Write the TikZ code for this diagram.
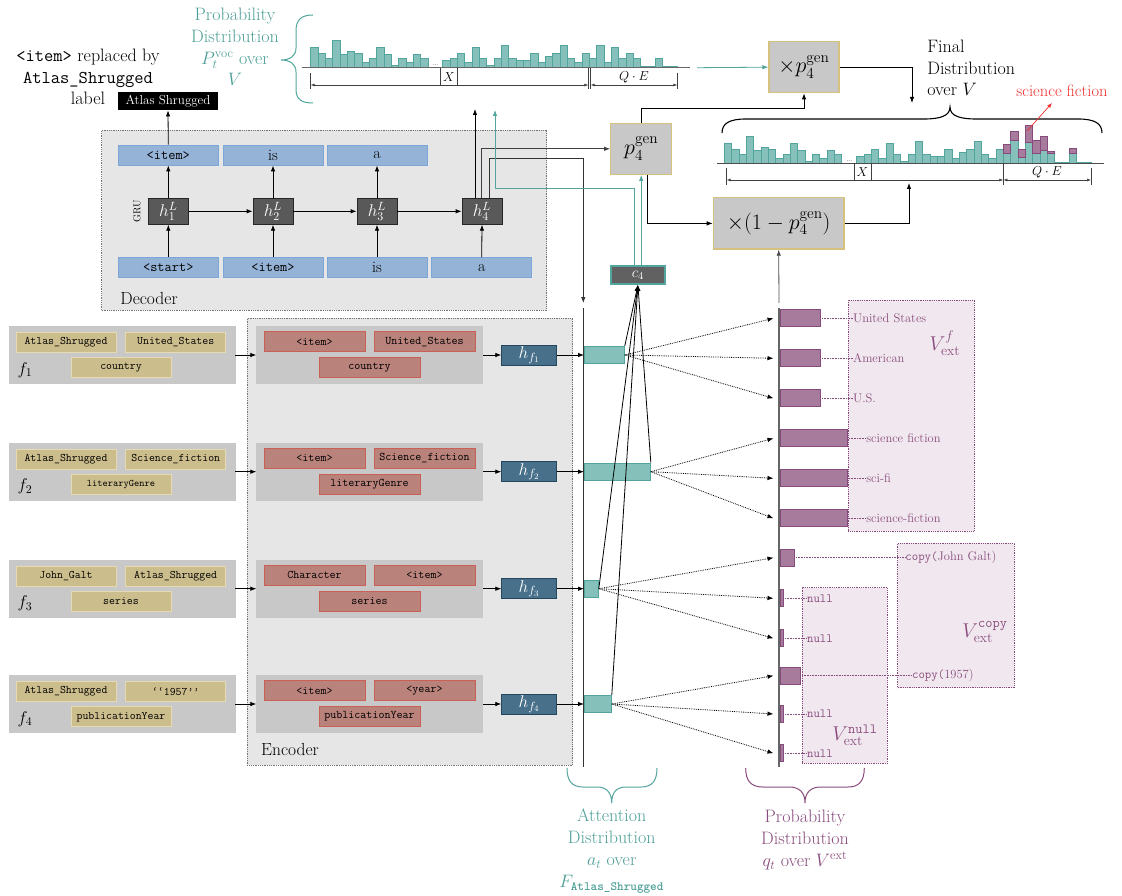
\RequirePackage{fix-cm}
\documentclass[tikz,border=0pt]{standalone}
\usepackage{amsmath}
\usetikzlibrary{arrows.meta,calc}
\definecolor{tealT}{HTML}{4E9F97}
\definecolor{tealF}{HTML}{86C0BA}
\definecolor{tealD}{HTML}{52A59C}
\definecolor{purT}{HTML}{8A4C7E}
\definecolor{purF}{HTML}{A67B9C}
\definecolor{purD}{HTML}{874A7C}
\definecolor{purBg}{HTML}{F0E8EE}
\definecolor{tanF}{HTML}{CCBD8D}
\definecolor{tanD}{HTML}{D6C27E}
\definecolor{redF}{HTML}{B9837B}
\definecolor{redD}{HTML}{C95F55}
\definecolor{blueF}{HTML}{95B3D7}
\definecolor{blueD}{HTML}{7DA6D8}
\definecolor{panel}{HTML}{E6E6E6}
\definecolor{boxG}{HTML}{C8C8C8}
\definecolor{hfF}{HTML}{48708A}
\definecolor{hfD}{HTML}{24475D}
\definecolor{sfred}{HTML}{F03030}
\newcommand\lgen{{\fontsize{10}{10}\selectfont literaryGenre}}
\newcommand\qyear{\textquoteleft\textquoteleft 1957\textquoteright\textquoteright}
\begin{document}
\begin{tikzpicture}[x=1pt,y=-1pt, line width=0.8pt, >={Latex[length=6pt,width=4.5pt]},
  blu/.style={draw=blueD, fill=blueF, minimum width=100, minimum height=20, inner sep=0, font=\fontsize{16}{16}\selectfont},
  blutt/.style={blu, font=\ttfamily\fontsize{14}{14}\selectfont},
  hbox/.style={draw=black!85, fill=black!65, text=white, minimum width=40, minimum height=26, inner sep=0, font=\fontsize{17}{17}\selectfont},
  fact/.style={draw=black!22, fill=boxG, minimum width=226, minimum height=56.7, inner sep=0},
  tantok/.style={fill=tanF, draw=tanD!60, minimum width=100, minimum height=20, inner sep=0, font=\ttfamily\fontsize{11.5}{11.5}\selectfont},
  redtok/.style={fill=redF, draw=redD, minimum width=101, minimum height=20, inner sep=0, font=\ttfamily\fontsize{11.7}{11.7}\selectfont},
  hfbox/.style={draw=hfD, fill=hfF, text=white, minimum width=55, minimum height=20, inner sep=0, font=\fontsize{17}{17}\selectfont},
  abar/.style={draw=tealD, fill=tealF, minimum height=17.5, inner sep=0, anchor=west},
  qbar/.style={draw=purD, fill=purF, minimum height=17, inner sep=0, anchor=west},
  qlab/.style={anchor=west, text=purT, inner sep=0, font=\fontsize{12.5}{12.5}\selectfont},
  pbox/.style={draw=tanD, fill=boxG, line width=1.3pt, inner sep=0, font=\fontsize{22}{22}\selectfont},
  panelbox/.style={draw=black!55, densely dotted, fill=panel, inner sep=0},
  vbox/.style={draw=purD, densely dotted, fill=purBg, inner sep=0},
  big/.style={font=\fontsize{18}{21.8}\selectfont, align=center, inner sep=0},
  tbar/.style={draw=tealD, fill=tealF, line width=0.6pt},
  pbar/.style={draw=purD, fill=purF, line width=0.6pt},
  meas/.style={black!75, line width=0.6pt},
  measarr/.style={meas, {Latex[length=4pt,width=3pt]}-{Latex[length=4pt,width=3pt]}},
  lab/.style={font=\fontsize{13}{13}\selectfont, inner sep=0}
]
\useasboundingbox (0,0) rectangle (1122,896);

% ---------- top-left annotation ----------
\node[big] (repl) at (88,77) {\texttt{<item>} replaced by\\ \texttt{Atlas\_Shrugged}\\ label};
\node[fill=black, text=white, minimum width=100, minimum height=18, inner sep=0, font=\fontsize{13}{13}\selectfont] (lbl) at (168,101) {Atlas Shrugged};
\node[big, text=tealT] (pvoc) at (235,47) {Probability\\Distribution\\$P_t^{\mathrm{voc}}$ over\\$V$};
\draw[tealD, line width=1pt] (313,15) .. controls (301,15) and (296,20) .. (296,31) -- (296,48) .. controls (296,56) and (290,60) .. (281,60) .. controls (290,60) and (296,64) .. (296,72) -- (296,89) .. controls (296,99) and (301,103) .. (313,103);

% ---------- top histogram ----------
\def\bw{7.33}
\foreach \h [count=\i from 0] in {20,14,9,27,13,16,14,5,9,20,13,2,9,5,13,9}
  \draw[tbar] ({310.7+\i*\bw},67.3) rectangle ++(\bw,-\h);
\foreach \h [count=\i from 0] in {7,9,14,5,20,9,2,9,22,9,7,7,14,5,11,14,22,9,5,14,9,22,5,20,9,14,9,1,1,9,1,1}
  \draw[tbar] ({442.7+\i*\bw},67.3) rectangle ++(\bw,-\h);
\draw[black!60, line width=1pt] (301.7,67.3) -- (690,67.3);
\node[anchor=base, inner sep=0, font=\fontsize{9}{9}\selectfont, text=black!60] (dots1) at (435.5,66) {\dots};
\draw[meas] (310.7,73) -- (310.7,89);
\draw[meas] (588.3,68) -- (588.3,89);
\draw[meas] (590.7,68) -- (590.7,89);
\draw[meas] (677.3,73) -- (677.3,89);
\draw[meas] (440.7,68) -- (440.7,85);
\draw[meas] (457.3,68) -- (457.3,85);
\draw[measarr] (310.7,85) -- (588.3,85);
\draw[measarr] (590.7,85) -- (677.3,85);
\node[lab] (xl1) at (449,77) {$X$};
\node[lab] (qe1) at (634,77) {$Q\cdot E$};

% ---------- bottom (final) histogram ----------
\foreach \h [count=\i from 0] in {20,14,9,27,13,16,14,5,9,20,13,2,9,5,13,9}
  \draw[tbar] ({724.3+\i*\bw},163.3) rectangle ++(\bw,-\h);
\foreach \h [count=\i from 0] in {7,9,14,5,20,9,2,9,22,9,7,7,14,5,11,14,22,9,5,14,10,23,6,21,10,13,10,1,1,10,1,1}
  \draw[tbar] ({856.7+\i*\bw},163.3) rectangle ++(\bw,-\h);
\foreach \i/\t/\p in {0/10/9,1/23/9,2/6/8,3/21/17,4/10/13,5/13/14,6/10/2,9/10/5}
  \draw[pbar] ({1003.3+\i*\bw},{163.3-\t}) rectangle ++(\bw,-\p);
\draw[black!70, line width=1pt] (717,163.3) -- (1104,163.3);
\node[anchor=base, inner sep=0, font=\fontsize{9}{9}\selectfont, text=black!60] (dots2) at (849.5,162) {\dots};
\draw[meas] (726.7,168) -- (726.7,185);
\draw[meas] (1003.3,163) -- (1003.3,185);
\draw[meas] (1091,168) -- (1091,185);
\draw[meas] (854.3,163) -- (854.3,180);
\draw[meas] (871,163) -- (871,180);
\draw[measarr] (726.7,180) -- (1003.3,180);
\draw[measarr] (1003.3,180) -- (1091,180);
\node[lab] (xl2) at (862.5,172) {$X$};
\node[lab] (qe2) at (1047,172) {$Q\cdot E$};
\draw[line width=1.1pt] (722,133) .. controls (722,123) and (730,119) .. (746,119) -- (924,119) .. controls (940,119) and (950,116) .. (950,107) .. controls (950,116) and (960,119) .. (976,119) -- (1078,119) .. controls (1094,119) and (1102,123) .. (1102,133);
\node[big, align=left, anchor=west] (fin) at (927,68) {Final\\Distribution\\over $V$};
\node[text=sfred, font=\fontsize{16.5}{16.5}\selectfont, inner sep=0] (sf) at (1062,91) {science fiction};
\coordinate (sfa) at (1027,131);
\coordinate (sfb) at (1052,103);
\draw[sfred, line width=0.7pt, -{Latex[length=5pt,width=4pt]}] (sfa) -- (sfb);

% ---------- decoder ----------
\node[panelbox, minimum width=445, minimum height=180] (dec) at (324.2,220) {};
\node[font=\fontsize{17.5}{17.5}\selectfont, anchor=west, inner sep=0] (declab) at (120,298) {Decoder};
\node[blutt] (t1) at (168.3,155) {<item>};
\node[blu] (t2) at (273,155) {is};
\node[blu] (t3) at (377,155) {a};
\node[blutt] (b1) at (168.3,267.7) {<start>};
\node[blutt] (b2) at (273,267.7) {<item>};
\node[blu] (b3) at (377,267.7) {is};
\node[blu] (b4) at (481.7,267.7) {a};
\node[hbox] (h1) at (168.3,211.3) {$h_1^L$};
\node[hbox] (h2) at (273,211.3) {$h_2^L$};
\node[hbox] (h3) at (377,211.3) {$h_3^L$};
\node[hbox] (h4) at (482,211.3) {$h_4^L$};
\node[rotate=90, font=\fontsize{10}{10}\selectfont, inner sep=0] (gru) at (137,211) {GRU};
\foreach \i in {1,2,3,4} \draw[->] (b\i.north) -- (h\i.south);
\foreach \i in {1,2,3} \draw[->] (h\i.north) -- (t\i.south);
\foreach \i/\j in {1/2,2/3,3/4} \draw[->] (h\i.east) -- (h\j.west);
\draw[->] (t1.north) -- (lbl.south);

% ---------- gen boxes ----------
\node[pbox, minimum width=61, minimum height=51] (pg) at (641.2,148.8) {$p_4^{\mathrm{gen}}$};
\node[pbox, minimum width=70, minimum height=51] (mp) at (804,67.2) {$\times p_4^{\mathrm{gen}}$};
\node[pbox, minimum width=130.7, minimum height=51.3] (mq) at (778.7,223.4) {$\times(1-p_4^{\mathrm{gen}})$};
\node[draw=tealD, line width=2pt, fill=black!62, text=white, minimum width=54, minimum height=18, inner sep=0, font=\fontsize{15}{15}\selectfont] (c4) at (637.9,275) {$c_4$};

% ---------- encoder ----------
\node[panelbox, minimum width=325.4, minimum height=446.7] (enc) at (410,541.7) {};
\node[font=\fontsize{17.5}{17.5}\selectfont, anchor=west, inner sep=0] (enclab) at (260.7,749) {Encoder};

% axes
\coordinate (ax1t) at (583.3,308);
\coordinate (ax1b) at (583.3,767);
\coordinate (ax2t) at (779,308);
\coordinate (ax2b) at (779,767);
\draw[black!80, line width=1pt] (ax1t) -- (ax1b);
\draw[black!60, line width=1.2pt] (ax2t) -- (ax2b);

% purple vocab boxes
\node[vbox, minimum width=125.7, minimum height=231] (vf) at (911.2,415.5) {};
\node[vbox, minimum width=116.6, minimum height=144.4] (vc) at (956,615.5) {};
\node[vbox, minimum width=85, minimum height=175.6] (vn) at (844.8,675.5) {};
\node[text=purT, font=\fontsize{20}{20}\selectfont, inner sep=0] (vfl) at (945,343) {$V_{\mathrm{ext}}^{f}$};
\node[text=purT, font=\fontsize{20}{20}\selectfont, inner sep=0] (vcl) at (985,632) {$V_{\mathrm{ext}}^{\mathtt{copy}}$};
\node[text=purT, font=\fontsize{20}{20}\selectfont, inner sep=0] (vnl) at (855,735) {$V_{\mathrm{ext}}^{\mathtt{null}}$};

% rows
\foreach \r/\y/\A/\B/\C/\D/\E/\G/\w in {
 1/355/Atlas\_Shrugged/United\_States/country/<item>/United\_States/country/40,
 2/471.7/Atlas\_Shrugged/Science\_fiction/\lgen/<item>/Science\_fiction/literaryGenre/66,
 3/588.7/John\_Galt/Atlas\_Shrugged/series/Character/<item>/series/14,
 4/704/Atlas\_Shrugged/\qyear/publicationYear/<item>/<year>/publicationYear/27}{
  \node[fact] (F\r) at (122,\y) {};
  \node[tantok] (FA\r) at (66,{\y-12.7}) {\A};
  \node[tantok] (FB\r) at (175.7,{\y-12.7}) {\B};
  \node[tantok] (FC\r) at (121,{\y+12.8}) {\C};
  \node[font=\fontsize{17}{17}\selectfont, inner sep=0] (fl\r) at (25,{\y+15}) {$f_\r$};
  \node[fact] (E\r) at (369.7,\y) {};
  \node[redtok] (EA\r) at (314.5,{\y-13.3}) {\D};
  \node[redtok] (EB\r) at (424.5,{\y-13.3}) {\E};
  \node[redtok] (EC\r) at (369.5,{\y+12.7}) {\G};
  \node[hfbox] (hf\r) at (529.2,\y) {$h_{f_\r}$};
  \node[abar, minimum width=\w] (a\r) at (584,\y) {};
  \draw[->] (F\r.east) -- (E\r.west);
  \draw[->] (E\r.east) -- (hf\r.west);
  \draw[->] (hf\r.east) -- (a\r.west);
}

% purple bars and labels
\foreach \k/\y/\w/\x/\t in {
 1/318.3/40/852.7/United States,
 2/358.3/40/852.7/American,
 3/398.3/40/852.7/U.S.,
 4/438.3/67/866/science fiction,
 5/478.3/67/866/sci-fi,
 6/518.3/67/866/science-fiction,
 7/557.7/14/905/\texttt{copy(}John Galt),
 8/598.3/3/806.7/\texttt{null},
 9/638.3/3/806.7/\texttt{null},
 10/675.7/20/911.7/\texttt{copy(}1957),
 11/714/3/806.7/\texttt{null},
 12/753.3/3/806.7/\texttt{null}}{
  \node[qbar, minimum width=\w] (q\k) at (779.5,\y) {};
  \node[qlab] (l\k) at (\x,\y) {\t};
  \draw[purD, densely dotted, line width=0.6pt] (q\k.east) -- (l\k.west);
}

% attention -> c4
\foreach \r/\an in {1/north east,2/north east,3/east,4/north east}
  \draw[->] (a\r.\an) -- (c4.south);

% attention -> vocab (dotted)
\foreach \r/\k in {1/1,1/2,1/3,2/4,2/5,2/6,3/7,3/8,3/9,4/10,4/11,4/12}
  \draw[densely dotted, ->] (a\r.east) -- ([xshift=-6]q\k.west);

% ---------- connectors around h4, c4 and gen boxes ----------
\coordinate (vtop) at (475,109);
\coordinate (atop) at (583.3,303);
\coordinate (ptop) at (495,110);
\draw[->] ([xshift=-7]h4.north) -- (vtop);
\draw[->, black!75] ([xshift=-0.3]h4.north) |- (pg.west);
\draw[->, black!80] ([xshift=7]h4.north) -- ++(0,-39.3) -| (atop);
\draw[tealD, ->] ([xshift=-3.9]c4.north) -- ++(0,-77) -| (ptop);
\draw[tealD, ->] (pg.south |- c4.north) -- (pg.south);
\draw[->] (pg.north) -- ++(0,-14.3) -| (mp.south);
\draw[->] ([xshift=6.5]pg.south) |- (mq.west);
\coordinate (ftop) at (912,103);
\coordinate (fbot) at (909,183);
\draw[->] (mp.east) -| (ftop);
\draw[->] (mq.east) -| (fbot);
\coordinate (hend) at (697,67.7);
\draw[tealD, ->] (hend) -- (mp.west);
\coordinate (qtop) at (779,303);
\draw[->, black!70] (qtop) -- (mq.south);

% ---------- bottom braces and captions ----------
\draw[tealD, line width=1pt] (567,768) .. controls (567,781) and (572,787) .. (583,787) -- (597,787) .. controls (606,787) and (611.7,792) .. (611.7,803) .. controls (611.7,792) and (617,787) .. (626,787) -- (641,787) .. controls (652,787) and (657,781) .. (657,768);
\draw[purD, line width=1pt] (745.7,768) .. controls (745.7,781) and (751,787) .. (763,787) -- (789,787) .. controls (799,787) and (805,792) .. (805,803) .. controls (805,792) and (811,787) .. (821,787) -- (848,787) .. controls (859,787) and (864.3,781) .. (864.3,768);
\node[big, text=tealT] (attn) at (611.7,851) {Attention\\Distribution\\$a_t$ over\\$F_{\text{\ttfamily\bfseries Atlas\_Shrugged}}$};
\node[big, text=purT] (qdist) at (805,840) {Probability\\Distribution\\$q_t$ over $V^{\mathrm{ext}}$};
\end{tikzpicture}
\end{document}
